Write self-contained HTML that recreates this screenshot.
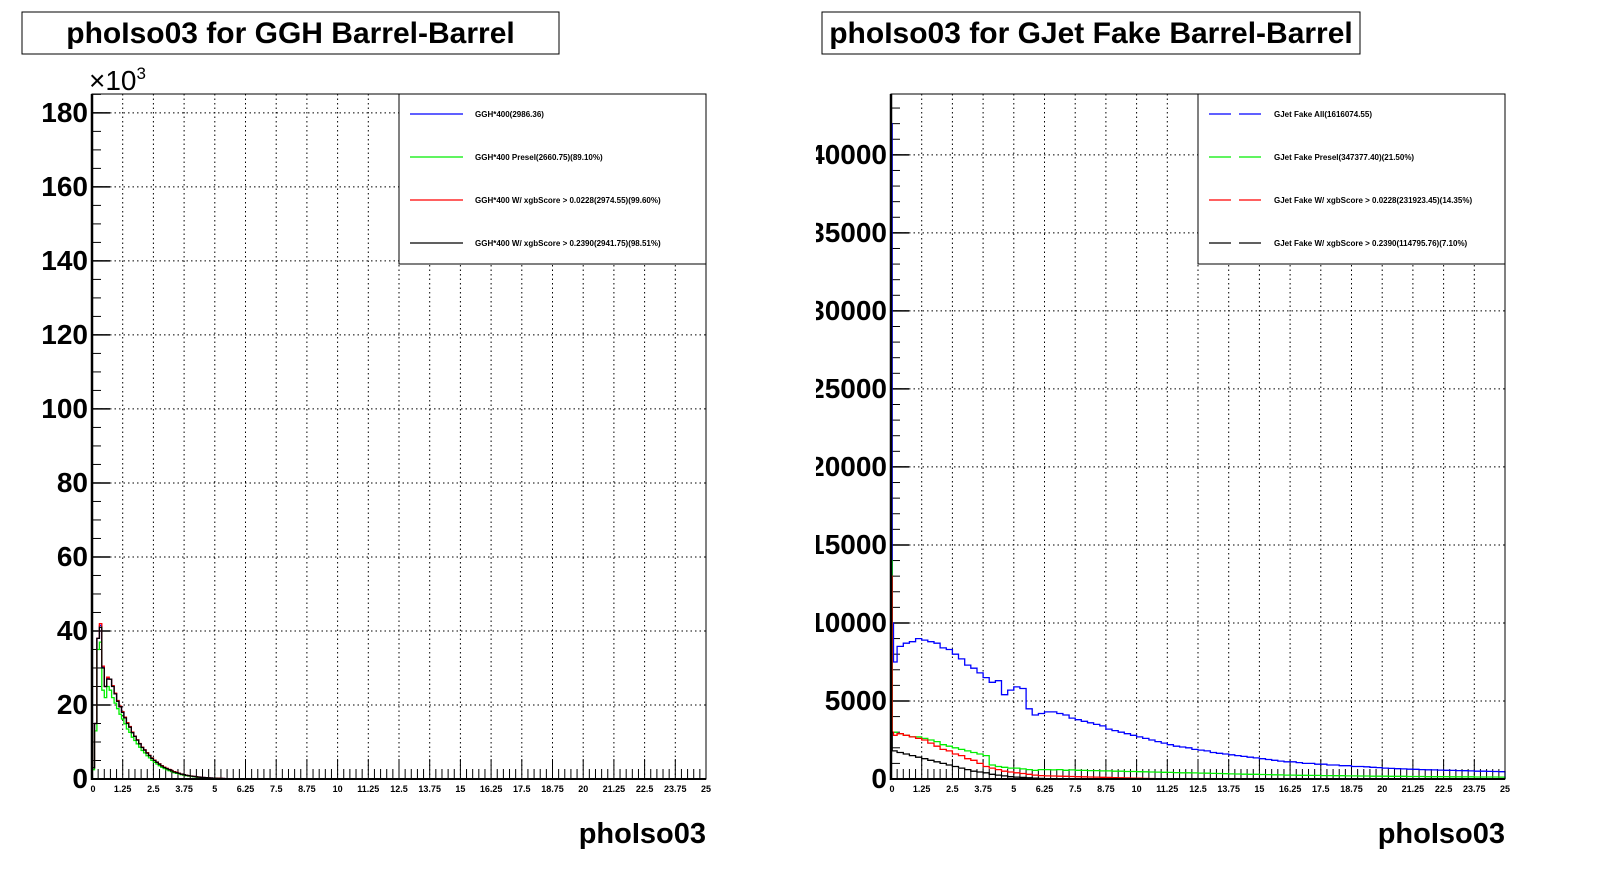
<!DOCTYPE html>
<html><head><meta charset="utf-8"><style>
html,body{margin:0;padding:0;background:#fff;}
svg{display:block;font-family:"Liberation Sans",Arial,sans-serif;font-weight:bold;}
</style></head><body>
<svg id="c" width="1598" height="874" viewBox="0 0 1598 874" xmlns="http://www.w3.org/2000/svg">
<defs><clipPath id="clipR"><rect x="816" y="0" width="782" height="874"/></clipPath></defs>
</svg>
<script>
// ---- Left chart (GGH) data: bins of width 0.1 starting at 0 ----
const leftBinWidth = 0.1;
const leftBlack = [3000,15000,38000,41000,30000,25000,27000,27000,25000,23000,21000,19500,18000,16500,15000,14000,12500,11500,10500,9500,8500,7800,7000,6300,5600,5000,4500,4000,3500,3100,2800,2500,2200,1900,1700,1500,1300,1150,1000,880,780,680,600,520,450,400,350,300,260,230,200,170,150,130,110,95,80,70,60,50,40,35,30,25,20,15,12,10,8,5];
const leftRed   = [3000,15000,38000,42000,30500,25000,27500,27000,25200,23200,21200,19700,18200,16700,15200,14200,12700,11600,10600,9600,8600,7900,7100,6400,5700,5100,4600,4100,3600,3200,2900,2600,2300,2000,1800,1550,1350,1200,1050,900,800,700,620,540,470,410,360,310,270,240,210,180,155,135,115,100,85,75,62,52,42,36,31,26,21,16,13,11,8,5];
const leftBlue  = [3000,15000,38000,41500,30200,25000,27200,27000,25100,23100,21100,19600,18100,16600,15100,14100,12600,11550,10550,9550,8550,7850,7050,6350,5650,5050,4550,4050,3550,3150,2850,2550,2250,1950,1750,1520,1320,1170,1020,890,790,690,610,530,460,405,355,305,265,235,205,175,152,132,112,97,82,72,61,51,41,36,31,26,21,16,13,11,8,5];
const leftGreen = [2500,13000,35000,37000,24000,22000,25000,24000,22000,20500,19000,17500,16200,14900,13500,12600,11300,10400,9500,8600,7700,7050,6300,5700,5050,4500,4050,3600,3150,2800,2500,2250,2000,1700,1530,1350,1170,1030,900,790,700,610,540,470,405,360,315,270,235,205,180,155,135,117,100,85,72,63,54,45,36,31,27,22,18,14,11,9,7,4];
const leftTicks = [0,20,40,60,80,100,120,140,160,180];
const leftTickLabels = ["0","20","40","60","80","100","120","140","160","180"];
const leftLegend = ["GGH*400(2986.36)","GGH*400 Presel(2660.75)(89.10%)","GGH*400 W/ xgbScore > 0.0228(2974.55)(99.60%)","GGH*400 W/ xgbScore > 0.2390(2941.75)(98.51%)"];

// ---- Right chart (GJet) data: bins of width 0.25 ----
const rightBinWidth = 0.25;
const rightBlue = [7500,8500,8700,8800,9000,8900,8800,8700,8400,8300,8000,7700,7300,7100,6800,6500,6200,6300,5400,5700,5900,5800,4500,4100,4200,4300,4300,4200,4100,3900,3800,3700,3600,3500,3400,3200,3100,3000,2900,2800,2700,2600,2500,2400,2300,2200,2100,2050,2000,1900,1850,1800,1700,1650,1600,1550,1500,1450,1400,1350,1300,1250,1200,1150,1100,1100,1050,1000,1000,950,950,900,900,850,850,800,800,780,750,730,700,680,660,650,630,620,600,590,580,570,560,550,540,530,520,500,500,490,480,470];
const rightGreen = [3000,2900,2800,2700,2700,2600,2500,2400,2200,2100,2000,1900,1800,1700,1600,1500,900,800,750,700,700,650,600,550,600,600,580,600,560,580,560,550,540,540,520,520,500,500,480,480,470,460,450,440,430,420,410,400,400,390,380,370,360,350,340,330,320,310,300,300,290,280,270,260,250,250,240,240,230,230,220,220,210,210,200,200,190,190,180,180,180,170,170,170,160,160,160,150,150,150,150,140,140,140,140,130,130,130,130,120];
const rightRed = [2800,2900,2800,2700,2600,2500,2300,2100,1900,1800,1600,1500,1300,1200,1000,800,700,600,500,450,400,350,300,250,220,200,190,180,170,160,150,140,130,120,110,100,90,80,70,60,50,40,30,20,15,10,5,0,0,0,0,0,0,0,0,0,0,0,0,0,0,0,0,0,0,0,0,0,0,0,0,0,0,0,0,0,0,0,0,0,0,0,0,0,0,0,0,0,0,0,0,0,0,0,0,0,0,0,0,0];
const rightBlack = [1800,1700,1600,1500,1400,1300,1200,1100,1000,900,800,700,600,500,450,400,300,250,200,150,120,100,80,60,40,20,10,5,0,0,0,0,0,0,0,0,0,0,0,0,0,0,0,0,0,0,0,0,0,0,0,0,0,0,0,0,0,0,0,0,0,0,0,0,0,0,0,0,0,0,0,0,0,0,0,0,0,0,0,0,0,0,0,0,0,0,0,0,0,0,0,0,0,0,0,0,0,0,0,0];
// first-bin spikes near x=0 (narrow bins, width 0.05)
const rightSpikeBlue = [42000,10000];
const rightSpikeGreen = [14000,3000];
const rightSpikeRed = [13000,3000];
const rightSpikeBlack = [3000,1800];
const rightTicks = [0,5000,10000,15000,20000,25000,30000,35000,40000];
const rightTickLabels = ["0","5000","10000","15000","20000","25000","30000","35000","40000"];
const rightLegend = ["GJet Fake All(1616074.55)","GJet Fake Presel(347377.40)(21.50%)","GJet Fake W/ xgbScore > 0.0228(231923.45)(14.35%)","GJet Fake W/ xgbScore > 0.2390(114795.76)(7.10%)"];

const xTickLabels = ["0","1.25","2.5","3.75","5","6.25","7.5","8.75","10","11.25","12.5","13.75","15","16.25","17.5","18.75","20","21.25","22.5","23.75","25"];

const NS = "http://www.w3.org/2000/svg";
const svg = document.getElementById("c");
function mk(parent, tag, attrs, text){
  const e = document.createElementNS(NS, tag);
  for (const k in attrs) e.setAttribute(k, attrs[k]);
  if (text !== undefined) e.textContent = text;
  parent.appendChild(e);
  return e;
}

function drawChart(o){
  const g = mk(svg, "g", o.clip ? {"clip-path":"url(#clipR)"} : {});
  
  
  const X0=o.x0, X1=o.x1, Y0=779, Y1=94;
  const sx = v => X0 + (v/25)*(X1-X0);
  const sy = v => Y0 - (v/o.ymax)*(Y0-Y1);
  const tb = mk(g,"rect",{x:o.tx,y:12,width:o.tw,height:42,fill:"#fff",stroke:"#000","stroke-width":1});
  
  
  const tt = mk(g,"text",{x:o.tx+o.tw/2,y:43,"font-size":30,"text-anchor":"middle"},o.title);
  
  
  for(let i=1;i<20;i++){
    const gl = mk(g,"line",{x1:sx(i*1.25),x2:sx(i*1.25),y1:Y1,y2:Y0,stroke:"#000","stroke-width":1,"stroke-dasharray":"1.5,3"});
    
    
  }
  o.ticks.forEach((t,i)=>{
    if(t>0){
      const gl = mk(g,"line",{x1:X0,x2:X1,y1:sy(t),y2:sy(t),stroke:"#000","stroke-width":1,"stroke-dasharray":"1.5,3"});
      
      
    }
    const tk = mk(g,"line",{x1:X0,x2:X0+18,y1:sy(t),y2:sy(t),stroke:"#000","stroke-width":1.5});
    
    
    const lb = mk(g,"text",{x:X0-4,y:sy(t)+9,"font-size":28,"text-anchor":"end"},o.tickLabels[i]);
    
    
  });
  for(let v=0; v<=o.ymax; v+=o.minor){
    const tk = mk(g,"line",{x1:X0,x2:X0+9,y1:sy(v),y2:sy(v),stroke:"#000","stroke-width":1});
    
    
  }
  for(let i=0;i<=100;i++){
    const v=i*0.25, major=(i%5===0);
    const tk = mk(g,"line",{x1:sx(v),x2:sx(v),y1:Y0,y2:Y0-(major?20:10),stroke:"#000","stroke-width":1});
    
    
  }
  xTickLabels.forEach((l,i)=>{
    const lb = mk(g,"text",{x:sx(i*1.25)+(i===0?1:0),y:792,"font-size":9,"text-anchor":"middle"},l);
    
    
  });
  o.series.forEach(s=>{
    let d="M"+sx(0)+","+sy(0);
    let pos=0;
    (s.spike||[]).forEach(v=>{
      d+=" L"+sx(pos).toFixed(1)+","+sy(v).toFixed(1)+" L"+sx(pos+0.05).toFixed(1)+","+sy(v).toFixed(1);
      pos+=0.05;
    });
    s.vals.forEach((v,i)=>{
      const a=Math.max(sx(i*o.bw),sx(pos)), b=sx((i+1)*o.bw), y=sy(v);
      if(b<=a) return;
      d+=" L"+a.toFixed(1)+","+y.toFixed(1)+" L"+b.toFixed(1)+","+y.toFixed(1);
    });
    d+=" L"+sx(s.vals.length*o.bw).toFixed(1)+","+sy(0);
    const p = mk(g,"path",{d:d,fill:"none",stroke:s.color,"stroke-width":1.3});
    
    
  });
  const fr = mk(g,"rect",{x:X0,y:Y1,width:X1-X0,height:Y0-Y1,fill:"none",stroke:"#000","stroke-width":1});
  
  
  const ax = mk(g,"line",{x1:X0,x2:X0,y1:Y1,y2:Y0+1,stroke:"#000","stroke-width":2.5});
  
  
  const axx = mk(g,"line",{x1:X0,x2:X1,y1:Y0,y2:Y0,stroke:"#000","stroke-width":2});
  
  
  const lg = mk(g,"g",{});
  
  
  mk(lg,"rect",{x:o.lx,y:Y1,width:X1-o.lx,height:170,fill:"#fff",stroke:"#000","stroke-width":1});
  o.legend.forEach((t,i)=>{
    const y=114+i*43;
    const e = mk(lg,"g",{});
    
    
    mk(e,"line",{x1:o.lx+11,x2:o.lx+64,y1:y,y2:y,stroke:o.series[i].color,"stroke-width":1.3,"stroke-dasharray":o.dash||"none"});
    mk(e,"text",{x:o.lx+76,y:y+3,"font-size":8},t);
  });
  const xt = mk(g,"text",{x:X1,y:843,"font-size":29,"text-anchor":"end"},"phoIso03");
  
  
  return {g,sx,sy};
}

const L = drawChart({name:"ggh-chart",x0:92,x1:706,ymax:185100,ticks:leftTicks.map(v=>v*1000),tickLabels:leftTickLabels,minor:5000,
  title:"phoIso03 for GGH Barrel-Barrel",tx:22,tw:537,lx:399,bw:leftBinWidth,legend:leftLegend,
  series:[{name:"series-ggh-all",color:"#0000ff",vals:leftBlue},{name:"series-ggh-presel",color:"#00ee00",vals:leftGreen},{name:"series-ggh-xgb-0228",color:"#ff0000",vals:leftRed},{name:"series-ggh-xgb-2390",color:"#000000",vals:leftBlack}]});
const ex = mk(L.g,"text",{x:89,y:90,"font-size":28,"font-weight":"normal"},"×10");


mk(ex,"tspan",{dy:-11,"font-size":17},"3");

drawChart({name:"gjet-chart",clip:true,x0:891,x1:1505,ymax:43900,ticks:rightTicks,tickLabels:rightTickLabels,minor:1000,
  title:"phoIso03 for GJet Fake Barrel-Barrel",tx:822,tw:538,lx:1198,bw:rightBinWidth,legend:rightLegend,dash:"22,8",
  series:[{name:"series-gjet-all",color:"#0000ff",vals:rightBlue,spike:rightSpikeBlue},{name:"series-gjet-presel",color:"#00ee00",vals:rightGreen,spike:rightSpikeGreen},{name:"series-gjet-xgb-0228",color:"#ff0000",vals:rightRed,spike:rightSpikeRed},{name:"series-gjet-xgb-2390",color:"#000000",vals:rightBlack,spike:rightSpikeBlack}]});
</script>
</body></html>
